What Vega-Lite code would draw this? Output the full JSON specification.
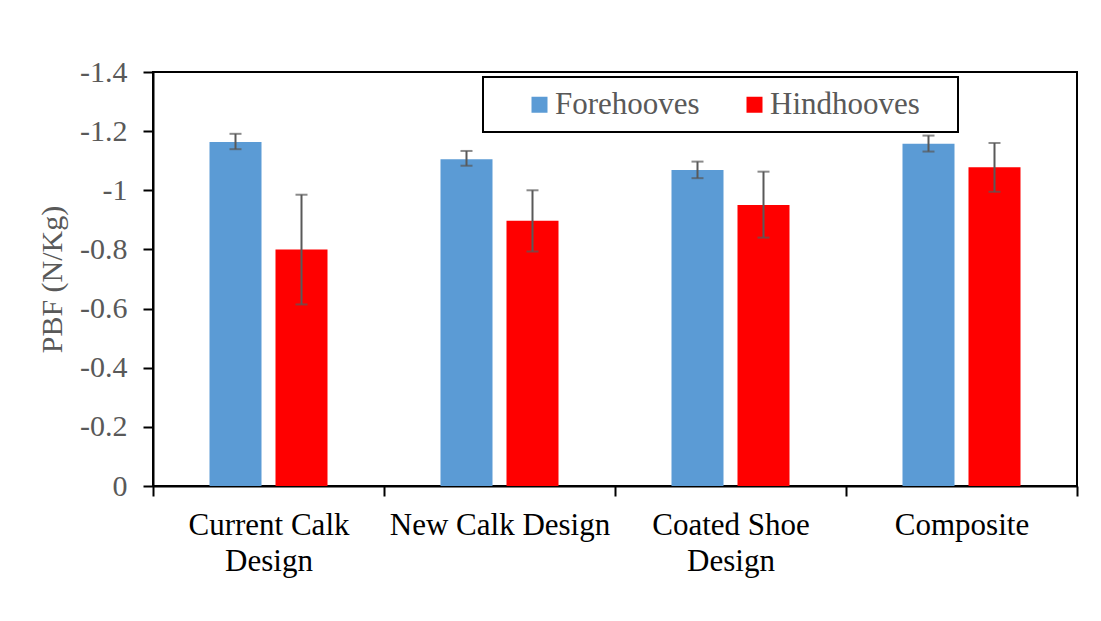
{
  "$schema": "https://vega.github.io/schema/vega-lite/v6.json",
  "autosize": "none",
  "width": 924,
  "height": 414,
  "padding": {"left": 153, "top": 72, "right": 24, "bottom": 135},
  "background": "white",
  "config": {
    "font": "Liberation Serif",
    "view": {"stroke": "black", "strokeWidth": 2},
    "axis": {"grid": false, "domainColor": "black", "domainWidth": 2, "tickColor": "black", "tickWidth": 2, "tickSize": 10},
    "legend": {"strokeWidth": 2}
  },
  "data": {
    "values": [
      {"design": "Current Calk Design", "hoof": "Forehooves", "value": -1.163, "lo": -1.139, "hi": -1.191},
      {"design": "Current Calk Design", "hoof": "Hindhooves", "value": -0.800, "lo": -0.614, "hi": -0.985},
      {"design": "New Calk Design", "hoof": "Forehooves", "value": -1.105, "lo": -1.083, "hi": -1.133},
      {"design": "New Calk Design", "hoof": "Hindhooves", "value": -0.897, "lo": -0.793, "hi": -1.000},
      {"design": "Coated Shoe Design", "hoof": "Forehooves", "value": -1.069, "lo": -1.041, "hi": -1.097},
      {"design": "Coated Shoe Design", "hoof": "Hindhooves", "value": -0.950, "lo": -0.840, "hi": -1.063},
      {"design": "Composite", "hoof": "Forehooves", "value": -1.157, "lo": -1.131, "hi": -1.185},
      {"design": "Composite", "hoof": "Hindhooves", "value": -1.078, "lo": -0.995, "hi": -1.160}
    ]
  },
  "encoding": {
    "x": {
      "field": "design", "type": "nominal", "sort": null,
      "scale": {"paddingInner": 0, "paddingOuter": 0},
      "axis": {
        "title": null, "labelAngle": 0, "tickBand": "extent",
        "labelFontSize": 31, "labelColor": "black", "labelPadding": 14,
        "labelLineHeight": 36, "labelBaseline": "top", "labelLimit": 0,
        "labelExpr": "datum.label == 'Current Calk Design' ? ['Current Calk', 'Design'] : datum.label == 'Coated Shoe Design' ? ['Coated Shoe', 'Design'] : datum.label"
      }
    },
    "xOffset": {
      "field": "hoof", "type": "nominal", "sort": ["Forehooves", "Hindhooves"],
      "scale": {"paddingInner": 0.212, "paddingOuter": 0.856}
    }
  },
  "layer": [
    {
      "mark": {"type": "bar"},
      "encoding": {
        "y": {
          "field": "value", "type": "quantitative",
          "scale": {"domain": [-1.4, 0], "reverse": true, "nice": false, "zero": true},
          "axis": {
            "title": "PBF (N/Kg)", "titleFontSize": 30, "titleColor": "#595959", "titleFontWeight": "normal", "titlePadding": 12,
            "values": [-1.4, -1.2, -1, -0.8, -0.6, -0.4, -0.2, 0],
            "labelFontSize": 30, "labelColor": "#595959", "labelPadding": 16,
            "labelExpr": "datum.value == 0 ? '0' : '-' + format(abs(datum.value), '~g')"
          }
        },
        "color": {
          "field": "hoof", "type": "nominal",
          "scale": {"domain": ["Forehooves", "Hindhooves"], "range": ["#5B9BD5", "#FF0000"]},
          "legend": {
            "title": ".", "titleOrient": "right", "titleColor": "white", "titleFontSize": 8, "titlePadding": 24,
            "orient": "none", "direction": "horizontal",
            "legendX": 330, "legendY": 5,
            "strokeColor": "black", "fillColor": "white",
            "padding": 12, "symbolType": "square", "symbolSize": 256,
            "symbolStrokeWidth": 0, "symbolOffset": 29,
            "labelFontSize": 31, "labelColor": "#595959", "labelOffset": 0,
            "columnPadding": 10, "labelLimit": 0
          }
        }
      }
    },
    {
      "mark": {"type": "rule", "color": "#595959", "strokeWidth": 2},
      "encoding": {
        "y": {"field": "lo", "type": "quantitative"},
        "y2": {"field": "hi"}
      }
    },
    {
      "mark": {"type": "tick", "color": "#595959", "thickness": 2, "size": 12},
      "encoding": {"y": {"field": "lo", "type": "quantitative"}}
    },
    {
      "mark": {"type": "tick", "color": "#595959", "thickness": 2, "size": 12},
      "encoding": {"y": {"field": "hi", "type": "quantitative"}}
    }
  ]
}
